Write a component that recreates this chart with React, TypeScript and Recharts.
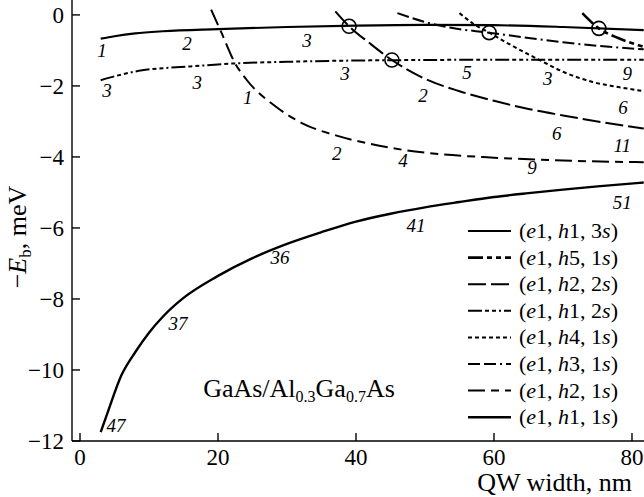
import { ComposedChart, Customized, Legend, Line, Scatter, XAxis, YAxis } from 'recharts'

document.body.style.margin = '0'

const SERIF = '"Liberation Serif", "Times New Roman", serif'
const PLOT_LEFT = 72
const PLOT_BOTTOM = 441

type Pt = [number, number]

// binding energies, meV, vs quantum well width, nm
const h1s1: Pt[] = [
  [3, -11.75], [4, -11.2], [6, -10.15], [8, -9.5], [10, -8.95], [12, -8.5], [15, -7.97],
  [20, -7.35], [25, -6.85], [30, -6.45], [35, -6.12], [40, -5.82], [45, -5.6], [50, -5.42],
  [55, -5.27], [60, -5.13], [65, -5.02], [70, -4.92], [75, -4.83], [81.7, -4.72],
]
const h1s3: Pt[] = [
  [3, -0.67], [5, -0.6], [8, -0.52], [12, -0.46], [20, -0.4], [30, -0.34], [40, -0.3],
  [50, -0.28], [60, -0.29], [70, -0.34], [81.7, -0.43],
]
const h1s2: Pt[] = [
  [3, -1.84], [6, -1.68], [9, -1.56], [12, -1.5], [16, -1.45], [22, -1.37], [30, -1.32],
  [42, -1.28], [50, -1.27], [60, -1.26], [81.7, -1.26],
]
const h2s1: Pt[] = [
  [19, 0.15], [20.5, -0.5], [22.5, -1.37], [24.2, -1.84], [28.5, -2.6], [32.3, -3.06],
  [37.2, -3.4], [42, -3.63], [46.8, -3.8], [50, -3.88], [60, -4.02], [70, -4.1], [81.7, -4.15],
]
const h2s2: Pt[] = [
  [37, 0.1], [39, -0.32], [42, -0.8], [45.2, -1.27], [50, -1.8], [55, -2.15], [60, -2.42],
  [65, -2.65], [70, -2.83], [75, -3.0], [81.7, -3.2],
]
const h3s1: Pt[] = [
  [46, 0.05], [50, -0.2], [54, -0.37], [59.3, -0.5], [65, -0.65], [70, -0.77], [75, -0.87],
  [81.7, -0.97],
]
const h4s1: Pt[] = [
  [55, 0.05], [57, -0.25], [59.3, -0.5], [62, -0.8], [66.7, -1.28], [70, -1.6], [74.3, -1.89],
  [78, -2.03], [81.7, -2.15],
]
const h5s1: Pt[] = [[72.8, 0.05], [75.2, -0.38], [78, -0.65], [81.7, -0.9]]

const crossings: Pt[] = [[39, -0.32], [45.2, -1.27], [59.3, -0.5], [75.2, -0.38]]

const curveLabels: [number, number, string][] = [
  [3.2, -0.99, '1'], [15.5, -0.79, '2'], [32.9, -0.7, '3'], [3.9, -2.11, '3'],
  [17, -1.89, '3'], [24.3, -2.31, '1'], [38.4, -1.63, '3'], [37.2, -3.89, '2'],
  [56.1, -1.61, '5'], [67.8, -1.77, '3'], [79.3, -1.63, '9'], [49.7, -2.25, '2'],
  [78.7, -2.59, '6'], [69.1, -3.32, '6'], [78.6, -3.66, '11'], [46.8, -4.08, '4'],
  [65.5, -4.28, '9'], [78.6, -5.27, '51'], [48.7, -5.92, '41'], [29, -6.82, '36'],
  [14.2, -8.68, '37'], [5.2, -11.55, '47'],
]

const xTicks = [0, 20, 40, 60, 80]
const yTicks = [0, -2, -4, -6, -8, -10, -12]

const STYLE: Record<string, { dash?: string; w: number }> = {
  h1s3: { w: 2.2 },
  h5s1: { dash: '15 4 5 4 5 4', w: 2.6 },
  h2s2: { dash: '18 5', w: 2 },
  h1s2: { dash: '14 3 4 3 4 3 2 3', w: 2 },
  h4s1: { dash: '4 3', w: 2 },
  h3s1: { dash: '12 4 12 4 2 4', w: 2 },
  h2s1: { dash: '17 6 8 6', w: 2 },
  h1s1: { w: 2.4 },
}

const series = [
  { key: 'h1s1', pts: h1s1 },
  { key: 'h1s3', pts: h1s3 },
  { key: 'h1s2', pts: h1s2 },
  { key: 'h2s1', pts: h2s1 },
  { key: 'h2s2', pts: h2s2 },
  { key: 'h3s1', pts: h3s1 },
  { key: 'h4s1', pts: h4s1 },
  { key: 'h5s1', pts: h5s1 },
]

const legendRows = [
  { key: 'h1s3', h: '1', n: '3' },
  { key: 'h5s1', h: '5', n: '1' },
  { key: 'h2s2', h: '2', n: '2' },
  { key: 'h1s2', h: '1', n: '2' },
  { key: 'h4s1', h: '4', n: '1' },
  { key: 'h3s1', h: '3', n: '1' },
  { key: 'h2s1', h: '2', n: '1' },
  { key: 'h1s1', h: '1', n: '1' },
]

const toObj = (pts: Pt[]) => pts.map(([x, y]) => ({ x, y }))

function XTick(props: any) {
  const { x, payload } = props
  return (
    <g>
      <line x1={x} x2={x} y1={PLOT_BOTTOM} y2={PLOT_BOTTOM - 8} stroke="#000" strokeWidth={1.4} />
      <text x={x} y={PLOT_BOTTOM + 24} textAnchor="middle" fontFamily={SERIF} fontSize={23} fill="#000">
        {payload.value}
      </text>
    </g>
  )
}

function YTick(props: any) {
  const { y, payload } = props
  const v = payload.value
  return (
    <g>
      <line x1={PLOT_LEFT} x2={PLOT_LEFT + 8} y1={y} y2={y} stroke="#000" strokeWidth={1.4} />
      <text x={PLOT_LEFT - 8} y={y + 8} textAnchor="end" fontFamily={SERIF} fontSize={23} fill="#000">
        {v < 0 ? `\u2212${Math.abs(v)}` : v}
      </text>
    </g>
  )
}

function LegendBox() {
  return (
    <svg width={180} height={215} style={{ display: 'block' }}>
      {legendRows.map((r, i) => {
        const cy = 13 + i * 26.6
        const s = STYLE[r.key]
        return (
          <g key={r.key}>
            <line x1={6} x2={49} y1={cy} y2={cy} stroke="#000" strokeWidth={s.w} strokeDasharray={s.dash} />
            <text x={57} y={cy + 7} fontFamily={SERIF} fontSize={22} fill="#000">
              (<tspan fontStyle="italic">e</tspan>1, <tspan fontStyle="italic">h</tspan>{r.h}, {r.n}<tspan fontStyle="italic">s</tspan>)
            </text>
          </g>
        )
      })}
    </svg>
  )
}

function Annotations() {
  return (
    <g fontFamily={SERIF} fill="#000">
      <text x={632} y={491} textAnchor="end" fontSize={26}>QW width, nm</text>
      <text transform="translate(26,237) rotate(-90)" textAnchor="middle" fontSize={26}>
        {'\u2212'}<tspan fontStyle="italic">E</tspan><tspan fontSize={17} dy={5}>b</tspan><tspan dy={-5}>, meV</tspan>
      </text>
      <text x={299} y={397} textAnchor="middle" fontSize={26}>
        GaAs/Al<tspan fontSize={16} dy={5}>0.3</tspan><tspan dy={-5}>Ga</tspan><tspan fontSize={16} dy={5}>0.7</tspan><tspan dy={-5}>As</tspan>
      </text>
    </g>
  )
}

const renderCircle = (p: any) => (
  <circle cx={p.cx} cy={p.cy} r={7} fill="none" stroke="#000" strokeWidth={1.6} />
)

const renderLabel = (p: any) => (
  <text x={p.cx} y={p.cy} dy={7} textAnchor="middle" fontFamily={SERIF} fontStyle="italic" fontSize={19} fill="#000">
    {p.payload.t}
  </text>
)

export default function App() {
  return (
    <div style={{ width: 644, height: 497, background: '#fff' }}>
      <ComposedChart width={644} height={497} margin={{ top: 0, right: 0, bottom: 0, left: 0 }}>
        <XAxis
          type="number"
          dataKey="x"
          domain={[-1.16, 81.74]}
          ticks={xTicks}
          interval={0}
          allowDataOverflow
          height={56}
          axisLine={{ stroke: '#000', strokeWidth: 1.4 }}
          tickLine={false}
          tick={<XTick />}
        />
        <YAxis
          type="number"
          domain={[-12, 0.42]}
          ticks={yTicks}
          interval={0}
          allowDataOverflow
          width={72}
          axisLine={{ stroke: '#000', strokeWidth: 1.4 }}
          tickLine={false}
          tick={<YTick />}
        />
        {series.map((s) => (
          <Line
            key={s.key}
            data={toObj(s.pts)}
            dataKey="y"
            type="monotone"
            stroke="#000"
            strokeWidth={STYLE[s.key].w}
            strokeDasharray={STYLE[s.key].dash}
            dot={false}
            activeDot={false}
            isAnimationActive={false}
          />
        ))}
        <Scatter data={toObj(crossings)} dataKey="y" shape={renderCircle} isAnimationActive={false} />
        <Scatter
          data={curveLabels.map(([x, y, t]) => ({ x, y, t }))}
          dataKey="y"
          shape={renderLabel}
          isAnimationActive={false}
        />
        <Legend
          layout="vertical"
          align="center"
          verticalAlign="middle"
          wrapperStyle={{ left: 462, top: 218, width: 180 }}
          content={() => <LegendBox />}
        />
        <Customized component={<Annotations />} />
      </ComposedChart>
    </div>
  )
}
